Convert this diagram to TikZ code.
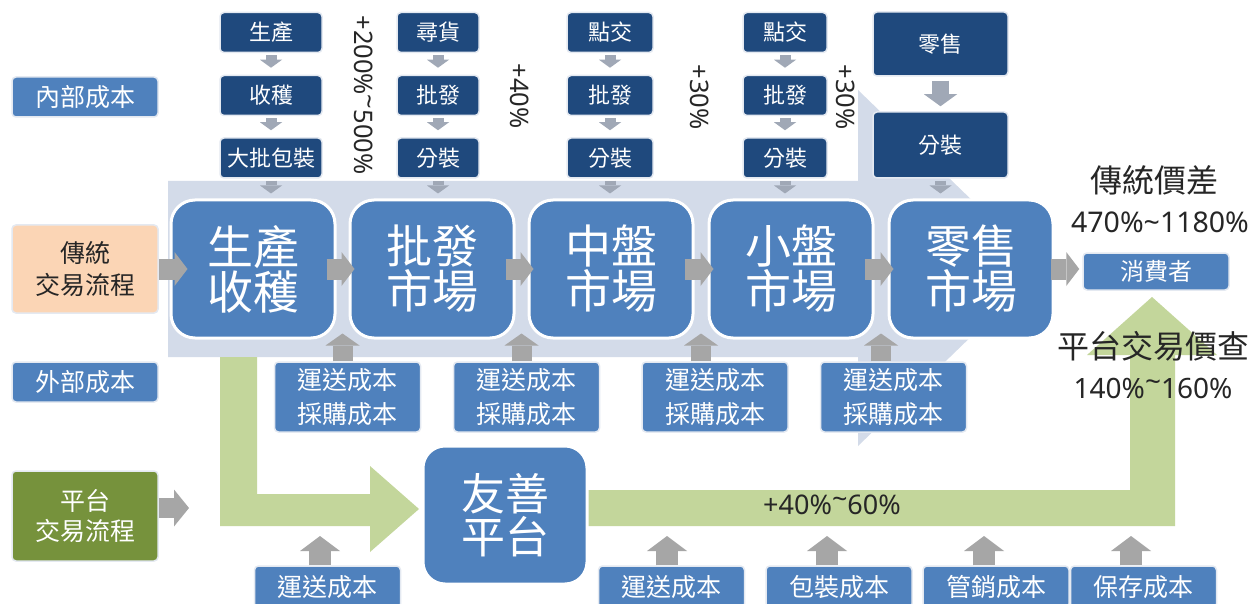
\documentclass[tikz,border=0pt]{standalone}
\usepackage{fontspec}
\setmainfont{Noto Sans CJK TC}
\newfontfamily\latinf{Noto Sans}
\usetikzlibrary{arrows.meta,calc}
\newcommand{\hitilde}{\raisebox{0.22em}{\textasciitilde}}
\definecolor{mblue}{HTML}{4F81BD}
\definecolor{dblue}{HTML}{1F497D}
\definecolor{lbg}{HTML}{D3DBE9}
\definecolor{ggray}{HTML}{A6A6A6}
\definecolor{tgray}{HTML}{A0A8B6}
\definecolor{lgreen}{HTML}{C3D69B}
\definecolor{olive}{HTML}{76923C}
\definecolor{peach}{HTML}{FBD5B5}
\definecolor{boxedge}{HTML}{E4E9F1}
\definecolor{txtdark}{HTML}{262626}
\begin{document}
\begin{tikzpicture}[x=1pt,y=-1pt,
  sbox/.style={rounded corners=4pt, line width=1.5pt, draw=boxedge, inner sep=0pt, align=center, text=white},
  bluebox/.style={sbox, fill=mblue},
  darkbox/.style={sbox, fill=dblue, font=\fontsize{22}{24}\selectfont, minimum height=40pt},
  bigbox/.style={fill=mblue, draw=white, line width=3pt, rounded corners=24pt, minimum width=164pt, minimum height=138pt, inner sep=0pt, align=center, text=white, font=\fontsize{46}{45}\selectfont},
  ftwo/.style={font=\fontsize{25}{34}\selectfont},
  lbl/.style={text=txtdark, inner sep=0pt},
  tarw/.style={draw=tgray, line width=11pt, -{Triangle[width=22pt,length=8pt,line width=0pt]}},
  warw/.style={draw=tgray, line width=17pt, -{Triangle[width=33pt,length=12pt,line width=0pt]}},
  harw/.style={draw=ggray, line width=21pt, -{Triangle[width=34pt,length=13pt,line width=0pt]}},
  uarw/.style={draw=ggray, line width=20pt, -{Triangle[width=34pt,length=12pt,line width=0pt]}},
  barw/.style={draw=ggray, line width=22pt, -{Triangle[width=40pt,length=15pt,line width=0pt]}},
  parw/.style={draw=ggray, line width=20pt, -{Triangle[width=37pt,length=15pt,line width=0pt]}}
]
\useasboundingbox (0,0) rectangle (1258,604);
\fill[white] (0,0) rectangle (1258,604);

% background light-blue block arrow
\fill[lbg] (168,181) -- (858,181) -- (858,90) -- (1042,268) -- (858,446) -- (858,357) -- (168,357) -- cycle;

% green platform arrows
\fill[lgreen] (220,357) -- (257,357) -- (257,494) -- (370,494) -- (370,466) -- (419,509) -- (370,552) -- (370,526) -- (220,526) -- cycle;
\fill[lgreen] (580,490) -- (1130,490) -- (1130,355) -- (1087,355) -- (1152,297) -- (1217,355) -- (1175,355) -- (1175,526) -- (580,526) -- cycle;

% left labels
\node[bluebox, ftwo, minimum width=146pt, minimum height=40pt] (inner) at (85,97) {內部成本};
\node[sbox, fill=peach, text=txtdark, font=\fontsize{25}{32}\selectfont, minimum width=146pt, minimum height=88pt] (trad) at (85,269) {傳統\\交易流程};
\node[bluebox, ftwo, minimum width=146pt, minimum height=40pt] (outer) at (85,382) {外部成本};
\node[sbox, fill=olive, font=\fontsize{25}{30}\selectfont, minimum width=146pt, minimum height=90pt] (plat) at (85,516) {平台\\交易流程};

% top internal-cost columns
\node[darkbox, minimum width=102pt] (a1) at (271,32.5) {生產};
\node[darkbox, minimum width=102pt] (a2) at (271,95.5) {收穫};
\node[darkbox, minimum width=102pt] (a3) at (271,158) {大批包裝};
\node[darkbox, minimum width=82pt] (b1) at (438,32.5) {尋貨};
\node[darkbox, minimum width=82pt] (b2) at (438,95.5) {批發};
\node[darkbox, minimum width=82pt] (b3) at (438,158) {分裝};
\node[darkbox, minimum width=86pt] (c1) at (610,32.5) {點交};
\node[darkbox, minimum width=86pt] (c2) at (610,95.5) {批發};
\node[darkbox, minimum width=86pt] (c3) at (610,158) {分裝};
\node[darkbox, minimum width=84pt] (d1) at (785,32.5) {點交};
\node[darkbox, minimum width=84pt] (d2) at (785,95.5) {批發};
\node[darkbox, minimum width=84pt] (d3) at (785,158) {分裝};
\node[darkbox, minimum width=135pt, minimum height=64pt] (e1) at (940.5,44) {零售};
\node[darkbox, minimum width=135pt, minimum height=66pt] (e2) at (940.5,145) {分裝};

% main chain
\node[bigbox] (m1) at (253,269) {生產\\收穫};
\node[bigbox] (m2) at (432,269) {批發\\市場};
\node[bigbox] (m3) at (611,269) {中盤\\市場};
\node[bigbox] (m4) at (791,269) {小盤\\市場};
\node[bigbox] (m5) at (971,269) {零售\\市場};
\node[bluebox, font=\fontsize{24}{26}\selectfont, minimum width=146pt, minimum height=37pt] (cons) at (1156,271.5) {消費者};

% external cost boxes
\node[bluebox, ftwo, minimum width=146pt, minimum height=70pt] (k1) at (347.5,397) {運送成本\\採購成本};
\node[bluebox, ftwo, minimum width=146pt, minimum height=70pt] (k2) at (526.5,397) {運送成本\\採購成本};
\node[bluebox, ftwo, minimum width=146pt, minimum height=70pt] (k3) at (715,397) {運送成本\\採購成本};
\node[bluebox, ftwo, minimum width=146pt, minimum height=70pt] (k4) at (893.5,397) {運送成本\\採購成本};

% platform
\node[bigbox, rounded corners=22pt, font=\fontsize{44}{43}\selectfont] (friend) at (505,515) {友善\\平台};
\node[bluebox, ftwo, minimum width=146pt, minimum height=42pt] (p1) at (327.5,587) {運送成本};
\node[bluebox, ftwo, minimum width=146pt, minimum height=42pt] (p2) at (671.5,587) {運送成本};
\node[bluebox, ftwo, minimum width=146pt, minimum height=42pt] (p3) at (839,587) {包裝成本};
\node[bluebox, ftwo, minimum width=146pt, minimum height=42pt] (p4) at (996,587) {管銷成本};
\node[bluebox, ftwo, minimum width=146pt, minimum height=42pt] (p5) at (1143.5,587) {保存成本};

% labels
\node[lbl, rotate=-90, font=\latinf\fontsize{25.5}{26}\selectfont] (r1) at (364,95) {+200\%\hitilde500\%};
\node[lbl, rotate=-90, font=\latinf\fontsize{25.5}{26}\selectfont] (r2) at (520,96) {+40\%};
\node[lbl, rotate=-90, font=\latinf\fontsize{25.5}{26}\selectfont] (r3) at (700,97) {+30\%};
\node[lbl, rotate=-90, font=\latinf\fontsize{25.5}{26}\selectfont] (r4) at (846,97) {+30\%};
\node[lbl, font=\fontsize{32}{34}\selectfont] (gapa) at (1154,180) {傳統價差};
\node[lbl, font=\latinf\fontsize{28.5}{30}\selectfont] (gapav) at (1160,222) {470\%\textasciitilde1180\%};
\node[lbl, font=\fontsize{32}{34}\selectfont] (gapb) at (1153,346) {平台交易價查};
\node[lbl, font=\latinf\fontsize{28}{30}\selectfont] (gapbv) at (1153,388) {140\%\hitilde160\%};
\node[lbl, font=\latinf\fontsize{27}{28}\selectfont] (pct) at (832,505) {+40\%\hitilde60\%};

% small downward arrows in the columns
\draw[tarw, shorten <=2pt, shorten >=7pt] (a1.south) -- (a2.north);
\draw[tarw, shorten <=2pt, shorten >=7pt] (a2.south) -- (a3.north);
\draw[tarw, shorten <=2pt, shorten >=5pt] (a3.south) -- (a3.south |- m1.north);
\draw[tarw, shorten <=2pt, shorten >=7pt] (b1.south) -- (b2.north);
\draw[tarw, shorten <=2pt, shorten >=7pt] (b2.south) -- (b3.north);
\draw[tarw, shorten <=2pt, shorten >=5pt] (b3.south) -- (b3.south |- m2.north);
\draw[tarw, shorten <=2pt, shorten >=7pt] (c1.south) -- (c2.north);
\draw[tarw, shorten <=2pt, shorten >=7pt] (c2.south) -- (c3.north);
\draw[tarw, shorten <=2pt, shorten >=5pt] (c3.south) -- (c3.south |- m3.north);
\draw[tarw, shorten <=2pt, shorten >=7pt] (d1.south) -- (d2.north);
\draw[tarw, shorten <=2pt, shorten >=7pt] (d2.south) -- (d3.north);
\draw[tarw, shorten <=2pt, shorten >=5pt] (d3.south) -- (d3.south |- m4.north);
\draw[warw, shorten <=4pt, shorten >=5pt] (e1.south) -- (e2.north);
\draw[tarw, shorten <=2pt, shorten >=5pt] (e2.south) -- (e2.south |- m5.north);

% horizontal chain arrows
\draw[harw] (trad.east) -- ([xshift=18pt]m1.west);
\draw[harw] ([xshift=-10pt]m1.east) -- ([xshift=6pt]m2.west);
\draw[harw] ([xshift=-10pt]m2.east) -- ([xshift=6pt]m3.west);
\draw[harw] ([xshift=-10pt]m3.east) -- ([xshift=6pt]m4.west);
\draw[harw] ([xshift=-10pt]m4.east) -- ([xshift=6pt]m5.west);
\draw[harw] ([xshift=-4pt]m5.east) -- ([xshift=-3pt]m5.east -| cons.west);

% external cost arrows into the gaps
\coordinate (g1) at ($(m1.south east)!0.5!(m2.south west)$);
\coordinate (g2) at ($(m2.south east)!0.5!(m3.south west)$);
\coordinate (g3) at ($(m3.south east)!0.5!(m4.south west)$);
\coordinate (g4) at ($(m4.south east)!0.5!(m5.south west)$);
\draw[uarw] (k1.north -| g1) -- ([yshift=6pt]g1);
\draw[uarw] (k2.north -| g2) -- ([yshift=6pt]g2);
\draw[uarw] (k3.north -| g3) -- ([yshift=6pt]g3);
\draw[uarw] (k4.north -| g4) -- ([yshift=6pt]g4);

% platform cost arrows
\coordinate (u1) at (320,536);
\coordinate (u2) at (667,536);
\coordinate (u3) at (827,536);
\coordinate (u4) at (984,536);
\coordinate (u5) at (1131,536);
\draw[barw] (p1.north -| u1) -- (u1);
\draw[barw] (p2.north -| u2) -- (u2);
\draw[barw] (p3.north -| u3) -- (u3);
\draw[barw] (p4.north -| u4) -- (u4);
\draw[barw] (p5.north -| u5) -- (u5);

\coordinate (pf) at (189,508);
\draw[parw] (plat.east |- pf) -- (pf);
\end{tikzpicture}
\end{document}
